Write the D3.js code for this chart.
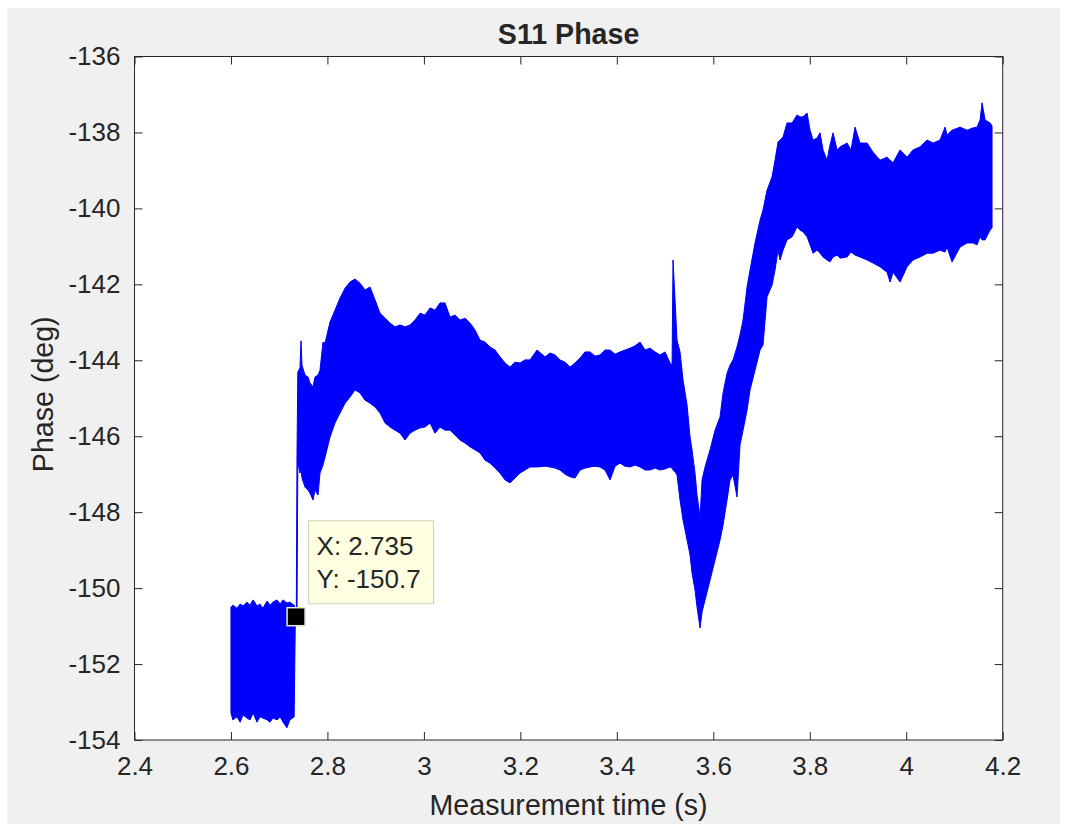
<!DOCTYPE html>
<html>
<head>
<meta charset="utf-8">
<script src="https://cdn.jsdelivr.net/npm/d3@7"></script>
<style>
  body { margin: 0; background: #ffffff; }
  text { font-family: "Liberation Sans", Arial, sans-serif; fill: #262626; }
</style>
</head>
<body>
<div id="chart"></div>
<script>
// S11 phase - envelope of the noisy trace
const tid = [2.600, 2.604, 2.6125, 2.619, 2.625, 2.633, 2.6395, 2.646, 2.654, 2.660,
  2.666, 2.675, 2.681, 2.687, 2.6955, 2.702, 2.708, 2.716, 2.722, 2.731,
  2.7335, 2.7355, 2.7369, 2.7386, 2.7431, 2.7452, 2.7473, 2.7535, 2.7597, 2.7639,
  2.7701, 2.7742, 2.7805, 2.7846, 2.7908, 2.7950, 2.8054, 2.8157, 2.8261, 2.8365,
  2.8468, 2.8572, 2.8676, 2.8779, 2.8883, 2.8987, 2.9090, 2.9194, 2.9298, 2.9401,
  2.9505, 2.9609, 2.9712, 2.9816, 2.9920, 3.0023, 3.0127, 3.0231, 3.0334, 3.0438,
  3.0542, 3.0645, 3.0749, 3.0853, 3.0956, 3.1060, 3.1164, 3.1267, 3.1371, 3.1475,
  3.1578, 3.1682, 3.1786, 3.1889, 3.1993, 3.2097, 3.2200, 3.2345, 3.2511, 3.2615,
  3.2719, 3.2822, 3.2926, 3.3030, 3.3133, 3.3237, 3.3341, 3.3444, 3.3548, 3.3652,
  3.3755, 3.3859, 3.3963, 3.4066, 3.4170, 3.4274, 3.4377, 3.4481, 3.4585, 3.4688,
  3.4792, 3.4896, 3.4999, 3.5103, 3.5145, 3.5165, 3.5207, 3.5248, 3.5310, 3.5373,
  3.5456, 3.5518, 3.5559, 3.5621, 3.5663, 3.5725, 3.5767, 3.5829, 3.5932, 3.6036,
  3.6140, 3.6202, 3.6285, 3.6347, 3.6409, 3.6492, 3.6554, 3.6617, 3.6700, 3.6762,
  3.6865, 3.6969, 3.7031, 3.7114, 3.7218, 3.7280, 3.7342, 3.7384, 3.7446, 3.7529,
  3.7633, 3.7736, 3.7798, 3.7861, 3.7944, 3.8006, 3.8068, 3.8151, 3.8213, 3.8275,
  3.8358, 3.8420, 3.8483, 3.8566, 3.8628, 3.8773, 3.8856, 3.8939, 3.9042, 3.9188,
  3.9312, 3.9457, 3.9602, 3.9665, 3.9727, 3.9872, 4.0017, 4.0141, 4.0287, 4.0432,
  4.0556, 4.0701, 4.0805, 4.0846, 4.0950, 4.1116, 4.1261, 4.1385, 4.1468, 4.1531,
  4.1572, 4.1634, 4.1738, 4.1779];

const faseTop = [-150.50, -150.45, -150.53, -150.42, -150.47, -150.37, -150.45, -150.31, -150.47, -150.42,
  -150.53, -150.34, -150.45, -150.37, -150.31, -150.42, -150.31, -150.39, -150.37, -150.45,
  -150.58, -150.60, -146.50, -144.31, -144.20, -143.49, -144.13, -144.39, -144.44, -144.60,
  -144.70, -144.44, -144.39, -144.26, -143.52, -143.55, -142.99, -142.68, -142.36, -142.10,
  -141.94, -141.86, -141.97, -142.15, -142.07, -142.41, -142.76, -142.89, -143.02, -143.12,
  -143.07, -143.12, -143.07, -142.94, -142.76, -142.81, -142.62, -142.68, -142.49, -142.49,
  -142.86, -142.81, -142.94, -142.89, -143.02, -143.20, -143.47, -143.52, -143.65, -143.73,
  -143.91, -144.07, -144.18, -144.05, -144.07, -143.99, -143.99, -143.73, -143.91, -143.81,
  -143.86, -143.99, -144.05, -144.18, -144.07, -143.94, -143.78, -143.78, -143.89, -143.86,
  -143.73, -143.73, -143.84, -143.78, -143.73, -143.68, -143.62, -143.52, -143.73, -143.68,
  -143.78, -143.86, -143.78, -144.07, -144.13, -141.36, -142.41, -143.47, -143.78, -144.52,
  -145.18, -146.02, -146.36, -146.97, -147.55, -148.13, -147.15, -146.81, -146.36, -145.84,
  -145.49, -144.86, -144.34, -144.13, -143.99, -143.65, -143.33, -142.94, -142.07, -141.62,
  -140.91, -140.31, -140.04, -139.52, -139.17, -138.73, -138.25, -138.20, -138.12, -137.75,
  -137.75, -137.54, -137.59, -137.59, -137.49, -137.94, -138.20, -138.15, -138.01, -138.46,
  -138.73, -138.33, -138.01, -138.46, -138.38, -138.28, -138.46, -137.86, -138.28, -138.28,
  -138.52, -138.73, -138.65, -138.73, -138.80, -138.46, -138.65, -138.46, -138.38, -138.20,
  -138.28, -138.20, -137.86, -138.07, -137.94, -137.86, -137.94, -137.88, -137.86, -137.67,
  -137.22, -137.67, -137.75, -137.83];

const faseBund = [-153.29, -153.47, -153.39, -153.53, -153.34, -153.42, -153.47, -153.29, -153.53, -153.39,
  -153.42, -153.47, -153.53, -153.42, -153.47, -153.39, -153.53, -153.68, -153.47, -153.39,
  -150.75, -150.75, -150.70, -146.68, -146.97, -146.89, -147.10, -147.34, -147.42, -147.50,
  -147.68, -147.42, -147.55, -146.97, -146.76, -146.55, -146.02, -145.65, -145.39, -145.13,
  -144.97, -144.78, -144.86, -145.05, -145.13, -145.23, -145.39, -145.65, -145.76, -145.84,
  -145.92, -146.10, -145.92, -145.84, -145.78, -145.76, -145.65, -145.92, -145.76, -145.84,
  -145.84, -145.97, -146.10, -146.18, -146.28, -146.36, -146.44, -146.63, -146.71, -146.84,
  -146.97, -147.15, -147.23, -147.10, -146.97, -146.89, -146.81, -146.81, -146.79, -146.81,
  -146.84, -146.89, -147.00, -147.07, -147.10, -146.89, -146.84, -146.81, -146.79, -146.81,
  -146.89, -147.15, -146.79, -146.71, -146.79, -146.81, -146.76, -146.81, -146.89, -146.89,
  -146.84, -146.89, -146.86, -146.81, -146.84, -146.89, -146.94, -147.02, -147.68, -148.21,
  -148.73, -149.13, -149.60, -150.05, -150.50, -151.05, -150.63, -150.31, -149.79, -149.26,
  -148.73, -148.34, -147.68, -147.15, -147.02, -147.60, -146.23, -145.84, -145.31, -144.78,
  -144.26, -143.73, -143.60, -142.33, -142.02, -141.62, -141.10, -141.36, -141.10, -140.83,
  -140.75, -140.49, -140.57, -140.62, -140.75, -140.96, -141.18, -141.10, -141.18, -141.28,
  -141.36, -141.41, -141.28, -141.23, -141.31, -141.28, -141.15, -141.23, -141.28, -141.36,
  -141.44, -141.54, -141.68, -141.94, -141.68, -141.94, -141.54, -141.36, -141.28, -141.18,
  -141.18, -141.10, -141.15, -141.02, -141.41, -141.02, -140.91, -140.91, -140.96, -140.75,
  -140.83, -140.83, -140.57, -140.52];

// akser
const xTicks = [2.4, 2.6, 2.8, 3, 3.2, 3.4, 3.6, 3.8, 4, 4.2];
const yTicks = [-154, -152, -150, -148, -146, -144, -142, -140, -138, -136];

// data tip
const tipX = 2.735;
const tipY = -150.7;

// dimensioner
const W = 1067, H = 825;
const margin = { top: 56.5, right: 64.3, bottom: 85, left: 134.5 };
const bredde = W - margin.left - margin.right;
const hoejde = H - margin.top - margin.bottom;

const root = d3.select("#chart").append("svg")
  .attr("width", W)
  .attr("height", H);

// figur baggrund
root.append("rect")
  .attr("x", 7).attr("y", 8)
  .attr("width", 1053).attr("height", 816)
  .attr("fill", "#f0f0f0");

const svg = root.append("g")
  .attr("transform", `translate(${margin.left},${margin.top})`);

svg.append("rect")
  .attr("width", bredde).attr("height", hoejde)
  .attr("fill", "#ffffff");

const x = d3.scaleLinear().domain([2.4, 4.2]).range([0, bredde]);
const y = d3.scaleLinear().domain([-154, -136]).range([hoejde, 0]);

// signal
const data = tid.map((t, i) => ({ t: t, hi: faseTop[i], lo: faseBund[i] }));

const area = d3.area()
  .x((d) => x(d.t))
  .y0((d) => y(d.lo))
  .y1((d) => y(d.hi));

svg.append("path")
  .datum(data)
  .attr("d", area)
  .attr("fill", "#0000ff")
  .attr("stroke", "#0000ff")
  .attr("stroke-width", 1)
  .attr("stroke-linejoin", "miter");

// akser med ticks indad
const fmt = (d) => String(d);
const axisColor = "#262626";

const gx = svg.append("g")
  .attr("transform", `translate(0,${hoejde})`)
  .call(d3.axisBottom(x).tickValues(xTicks).tickFormat(fmt)
    .tickSizeInner(-8).tickSizeOuter(0).tickPadding(10));
const gxt = svg.append("g")
  .call(d3.axisTop(x).tickValues(xTicks).tickFormat("")
    .tickSizeInner(-8).tickSizeOuter(0));
const gy = svg.append("g")
  .call(d3.axisLeft(y).tickValues(yTicks).tickFormat(fmt)
    .tickSizeInner(-8).tickSizeOuter(0).tickPadding(14));
const gyr = svg.append("g")
  .attr("transform", `translate(${bredde},0)`)
  .call(d3.axisRight(y).tickValues(yTicks).tickFormat("")
    .tickSizeInner(-8).tickSizeOuter(0));

[gx, gxt, gy, gyr].forEach((g) => {
  g.select(".domain").remove();
  g.selectAll("line").attr("stroke", axisColor);
  g.selectAll("text")
    .style("font-family", '"Liberation Sans", Arial, sans-serif')
    .style("font-size", "26px")
    .attr("fill", axisColor);
});
gx.selectAll("text").attr("dy", "0.95em");

svg.append("rect")
  .attr("width", bredde).attr("height", hoejde)
  .attr("fill", "none")
  .attr("stroke", axisColor)
  .attr("stroke-width", 1);

// titel og labels
root.append("text")
  .attr("x", margin.left + bredde / 2)
  .attr("y", 43.5)
  .attr("text-anchor", "middle")
  .style("font-size", "28.6px")
  .style("font-weight", "bold")
  .attr("fill", "#000000")
  .text("S11 Phase");

root.append("text")
  .attr("x", margin.left + bredde / 2)
  .attr("y", 815)
  .attr("text-anchor", "middle")
  .style("font-size", "28.6px")
  .text("Measurement time (s)");

root.append("text")
  .attr("transform", `translate(53,${margin.top + hoejde / 2 - 4}) rotate(-90)`)
  .attr("text-anchor", "middle")
  .style("font-size", "28.6px")
  .text("Phase (deg)");

// data tip
const tipBox = svg.append("g")
  .attr("transform", `translate(${x(tipX) + 12.5},${y(tipY) - 94})`);
tipBox.append("rect")
  .attr("width", 125).attr("height", 83)
  .attr("fill", "#ffffe1")
  .attr("stroke", "#cfcfc0")
  .attr("stroke-width", 1);
tipBox.append("text")
  .attr("x", 8).attr("y", 34.5)
  .style("font-size", "26px")
  .attr("fill", "#1a1a1a")
  .text(`X: ${tipX}`);
tipBox.append("text")
  .attr("x", 8).attr("y", 67.5)
  .style("font-size", "26px")
  .attr("fill", "#1a1a1a")
  .text(`Y: ${tipY}`);

svg.append("rect")
  .attr("x", x(tipX) - 9)
  .attr("y", y(tipY) - 7)
  .attr("width", 18).attr("height", 18)
  .attr("fill", "#000000")
  .attr("stroke", "#e8e8cc")
  .attr("stroke-width", 1.5);
</script>
</body>
</html>
